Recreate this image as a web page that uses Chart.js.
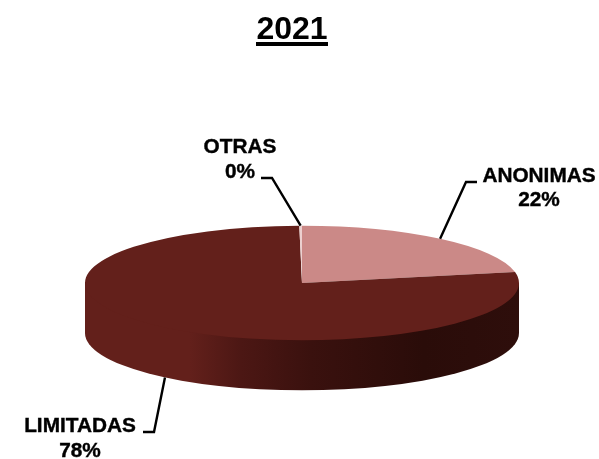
<!DOCTYPE html>
<html>
<head>
<meta charset="utf-8">
<title>2021</title>
<script src="https://cdn.jsdelivr.net/npm/chart.js@4/dist/chart.umd.js"></script>
<style>
  html, body { margin: 0; padding: 0; background: #fff; }
  canvas { display: block; }
</style>
</head>
<body>
<canvas id="pie" width="599" height="459"></canvas>
<script>
const title = '2021';
const categories = ['ANONIMAS', 'LIMITADAS', 'OTRAS'];
const values = [22, 78, 0.2];
const colors = ['#cb8987', '#63201b', '#ecd0cf'];

// where the text sits and how each leader line bends
const labelSpots = [
  { x: 539, nameY: 182, pctY: 206, elbow: [466, 182], end: [477, 182] },
  { x: 80, nameY: 432, pctY: 457, elbow: [154, 432], end: [143, 432] },
  { x: 240, nameY: 153, pctY: 178, elbow: [272, 178], end: [261, 178] }
];

const squash = 0.264; // top face height / width
const depth = 50;

const total = values.reduce((a, b) => a + b, 0);

const pie3d = {
  id: 'pie3d',
  beforeDatasetsDraw(chart) {
    const ctx = chart.ctx;
    const arc = chart.getDatasetMeta(0).data[0];
    const rx = arc.outerRadius;
    const ry = rx * squash;

    // side wall, runs under the top face so no seam shows along the edge
    const wall = ctx.createLinearGradient(arc.x - rx, 0, arc.x + rx, 0);
    wall.addColorStop(0, '#63201b');
    wall.addColorStop(0.24, '#63201b');
    wall.addColorStop(0.36, '#4c1714');
    wall.addColorStop(0.52, '#3a110e');
    wall.addColorStop(0.78, '#2a0c09');
    wall.addColorStop(1, '#2e0e0b');
    ctx.save();
    ctx.fillStyle = wall;
    ctx.beginPath();
    ctx.moveTo(arc.x - rx, arc.y);
    ctx.lineTo(arc.x + rx, arc.y);
    ctx.lineTo(arc.x + rx, arc.y + depth);
    ctx.ellipse(arc.x, arc.y + depth, rx, ry, 0, 0, Math.PI, false);
    ctx.closePath();
    ctx.fill();
    ctx.restore();

    // flatten the slices into the top face
    ctx.save();
    ctx.translate(0, arc.y);
    ctx.scale(1, squash);
    ctx.translate(0, -arc.y);
  },
  afterDatasetsDraw(chart) {
    const ctx = chart.ctx;
    ctx.restore();

    const arcs = chart.getDatasetMeta(0).data;
    ctx.save();
    ctx.fillStyle = '#000';
    ctx.strokeStyle = '#000';
    ctx.textAlign = 'center';
    ctx.textBaseline = 'alphabetic';

    // title with underline
    ctx.font = 'bold 32px "Liberation Sans", Arial, sans-serif';
    ctx.fillText(title, 292, 38.5);
    ctx.fillRect(256, 42, 72, 4);

    arcs.forEach((arc, i) => {
      const spot = labelSpots[i];
      const mid = (arc.startAngle + arc.endAngle) / 2;
      const ax = arc.x + arc.outerRadius * Math.cos(mid);
      let ay = arc.y + arc.outerRadius * squash * Math.sin(mid);
      if (Math.sin(mid) > 0) ay += depth;

      ctx.lineWidth = 2.4;
      ctx.beginPath();
      ctx.moveTo(ax, ay);
      ctx.lineTo(spot.elbow[0], spot.elbow[1]);
      ctx.lineTo(spot.end[0], spot.end[1]);
      ctx.stroke();

      // slightly heavier than plain bold, like the source
      ctx.font = 'bold 20.8px "Liberation Sans", Arial, sans-serif';
      ctx.lineWidth = 0.4;
      const pct = Math.round(values[i] / total * 100) + '%';
      ctx.fillText(categories[i], spot.x, spot.nameY);
      ctx.strokeText(categories[i], spot.x, spot.nameY);
      ctx.fillText(pct, spot.x, spot.pctY);
      ctx.strokeText(pct, spot.x, spot.pctY);
    });
    ctx.restore();
  }
};

new Chart(document.getElementById('pie'), {
  type: 'pie',
  data: {
    labels: categories,
    datasets: [{
      data: values,
      backgroundColor: colors,
      borderWidth: 0
    }]
  },
  options: {
    responsive: false,
    animation: false,
    events: [],
    radius: 217,
    layout: { padding: { left: 85, right: 80, top: 107, bottom: 0 } },
    plugins: {
      legend: { display: false },
      tooltip: { enabled: false }
    }
  },
  plugins: [pie3d]
});
</script>
</body>
</html>
